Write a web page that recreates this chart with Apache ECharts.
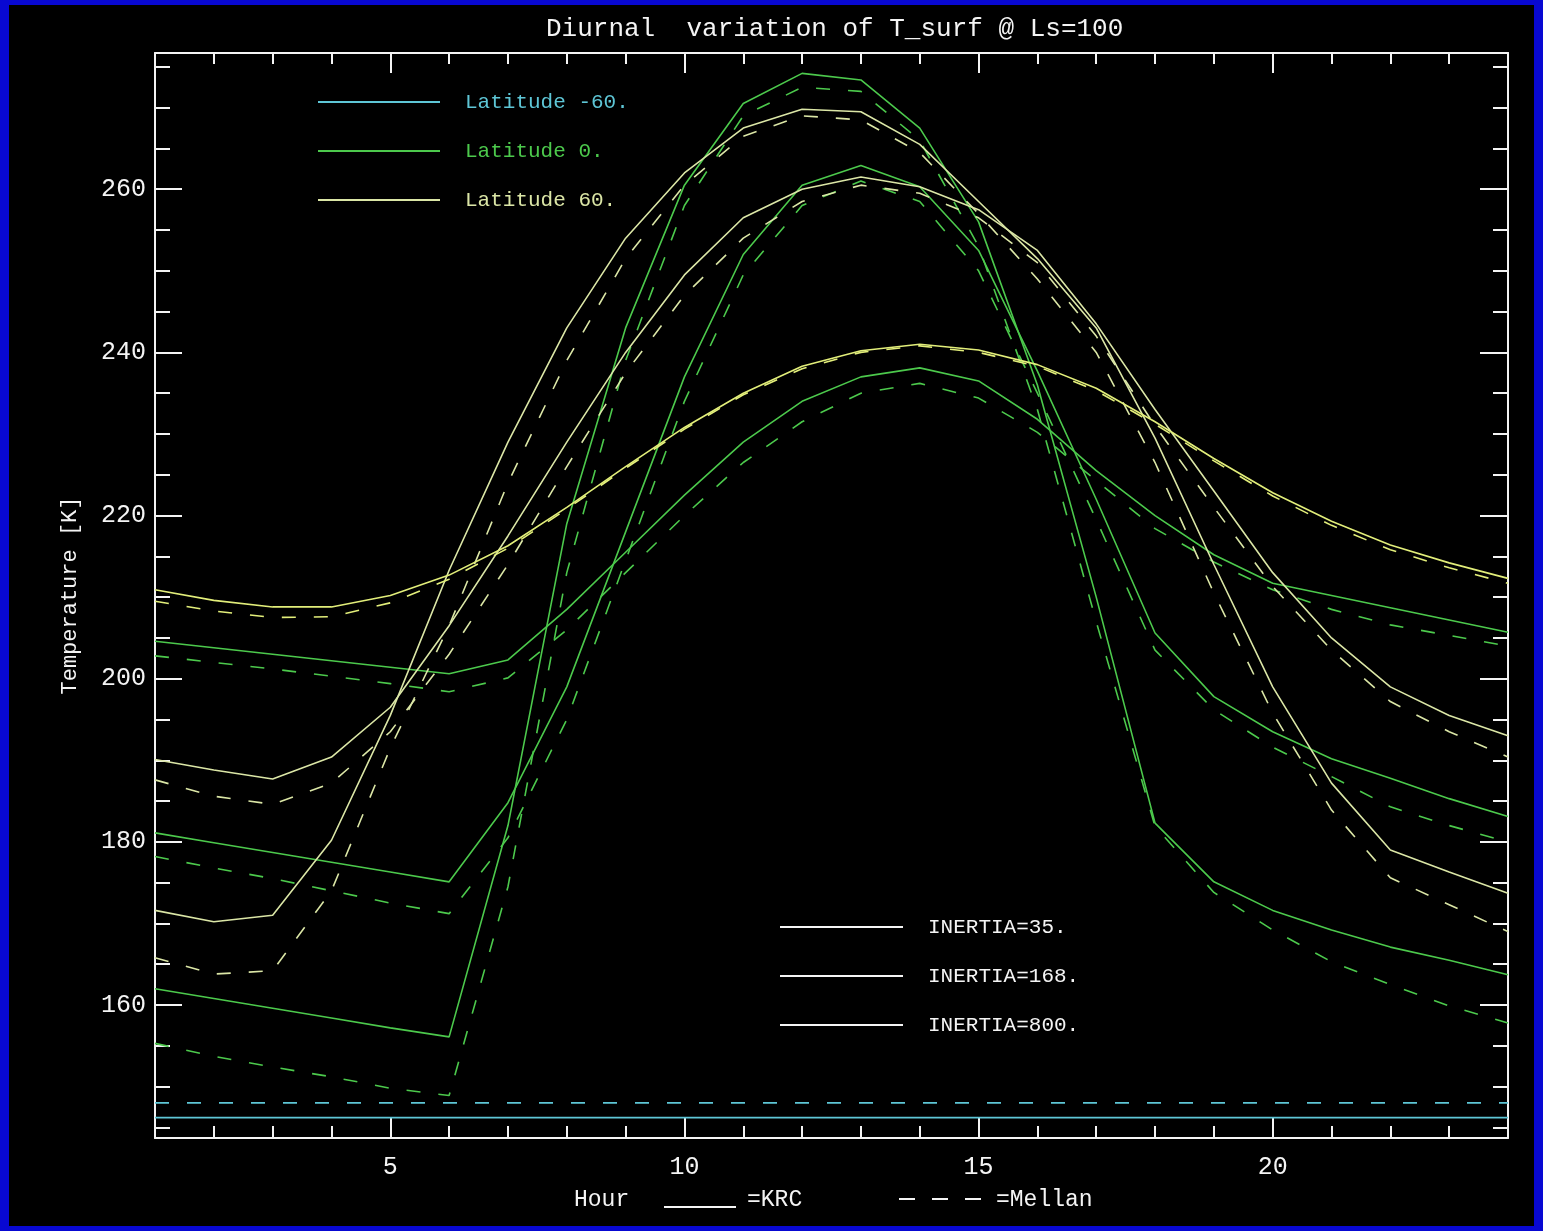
<!DOCTYPE html>
<html>
<head>
<meta charset="UTF-8">
<title>Diurnal variation of T_surf</title>
<script src="https://cdn.jsdelivr.net/npm/echarts@6/dist/echarts.min.js"></script>
<style>
  html, body { margin: 0; padding: 0; background: #0808d2; }
  #main { position: absolute; left: 9px; top: 5px; width: 1525px; height: 1221px; background: #000; }
</style>
</head>
<body>
<div id="main"></div>
<script type="text/javascript">
// hours of the day
var hours = [1, 2, 3, 4, 5, 6, 7, 8, 9, 10, 11, 12, 13, 14, 15, 16, 17, 18, 19, 20, 21, 22, 23, 24];

// latitude 60, KRC (solid) and Mellon (dashed)
var lat60Krc35   = [171.6, 170.2, 171.0, 180.2, 195.5, 213.3, 229.0, 243.0, 254.0, 262.0, 267.5, 269.8, 269.5, 265.5, 258.5, 251.5, 243.0, 229.5, 214.0, 199.0, 187.2, 179.0, 176.3, 173.7];
var lat60Mel35   = [165.8, 163.8, 164.2, 174.0, 191.5, 206.5, 224.0, 239.0, 251.5, 260.5, 266.5, 269.0, 268.5, 264.5, 257.0, 249.0, 240.0, 226.5, 210.5, 195.8, 183.9, 175.6, 172.3, 169.0];
var lat60Krc168  = [190.1, 188.8, 187.7, 190.4, 196.5, 206.5, 217.5, 229.0, 240.0, 249.5, 256.5, 260.0, 261.5, 260.3, 257.5, 252.5, 243.5, 233.0, 223.0, 213.0, 205.0, 199.0, 195.5, 193.0];
var lat60Mel168  = [187.6, 185.6, 184.6, 187.2, 193.5, 203.0, 214.0, 226.0, 237.5, 247.0, 254.0, 258.5, 260.5, 259.5, 256.5, 251.0, 242.0, 231.0, 221.0, 211.3, 203.5, 197.2, 193.5, 190.4];
var lat60Krc800  = [210.9, 209.6, 208.8, 208.8, 210.2, 212.7, 216.3, 221.0, 226.0, 230.8, 235.0, 238.3, 240.2, 241.0, 240.3, 238.5, 235.6, 231.5, 227.0, 222.8, 219.3, 216.4, 214.2, 212.3];
var lat60Mel800  = [209.5, 208.3, 207.5, 207.6, 209.3, 212.2, 216.0, 220.8, 225.8, 230.6, 234.8, 238.0, 240.0, 240.8, 240.0, 238.3, 235.3, 231.2, 226.7, 222.4, 218.8, 215.8, 213.6, 211.7];

// latitude 0
var lat0Krc35    = [162.0, 160.8, 159.6, 158.4, 157.2, 156.1, 182.0, 219.0, 243.0, 260.5, 270.5, 274.2, 273.4, 267.5, 256.0, 236.0, 210.0, 182.3, 175.1, 171.6, 169.2, 167.1, 165.5, 163.7];
var lat0Mel35    = [155.3, 153.7, 152.4, 151.2, 149.8, 148.9, 174.5, 213.0, 239.0, 258.0, 269.0, 272.5, 272.0, 266.0, 253.0, 233.0, 207.0, 181.9, 173.8, 169.2, 165.3, 162.5, 159.9, 157.8];
var lat0Krc168   = [181.1, 179.9, 178.7, 177.5, 176.3, 175.1, 184.8, 199.0, 218.0, 237.0, 252.0, 260.5, 262.9, 260.3, 252.5, 237.7, 222.0, 205.6, 197.8, 193.5, 190.2, 187.8, 185.3, 183.1];
var lat0Mel168   = [178.2, 176.8, 175.5, 174.0, 172.5, 171.2, 180.5, 195.0, 214.5, 234.0, 249.5, 258.0, 261.0, 258.5, 250.0, 235.0, 219.5, 203.5, 196.2, 191.6, 188.0, 184.3, 182.0, 180.0];
var lat0Krc800   = [204.6, 203.8, 203.0, 202.2, 201.4, 200.6, 202.3, 208.5, 215.5, 222.5, 229.0, 234.0, 237.0, 238.1, 236.5, 231.8, 225.5, 220.0, 215.2, 211.7, 210.2, 208.7, 207.2, 205.7];
var lat0Mel800   = [202.8, 202.0, 201.2, 200.3, 199.4, 198.4, 200.1, 206.0, 213.0, 220.0, 226.5, 231.5, 235.0, 236.2, 234.4, 230.2, 224.3, 218.4, 214.3, 210.9, 208.5, 206.6, 205.3, 204.0];

// latitude -60 (CO2 frost, same for every inertia)
var latS60Krc    = [146.2, 146.2, 146.2, 146.2, 146.2, 146.2, 146.2, 146.2, 146.2, 146.2, 146.2, 146.2, 146.2, 146.2, 146.2, 146.2, 146.2, 146.2, 146.2, 146.2, 146.2, 146.2, 146.2, 146.2];
var latS60Mel    = [148.0, 148.0, 148.0, 148.0, 148.0, 148.0, 148.0, 148.0, 148.0, 148.0, 148.0, 148.0, 148.0, 148.0, 148.0, 148.0, 148.0, 148.0, 148.0, 148.0, 148.0, 148.0, 148.0, 148.0];

// tick positions
var xMajor = [5, 10, 15, 20];
var xMinor = [2, 3, 4, 6, 7, 8, 9, 11, 12, 13, 14, 16, 17, 18, 19, 21, 22, 23];
var yMajor = [160, 180, 200, 220, 240, 260];
var yMinor = [145, 150, 155, 165, 170, 175, 185, 190, 195, 205, 210, 215, 225, 230, 235, 245, 250, 255, 265, 270, 275];

var latNames = ['Latitude -60.', 'Latitude 0.', 'Latitude 60.'];
var inertiaNames = ['INERTIA=35.', 'INERTIA=168.', 'INERTIA=800.'];

var FONT = 'Liberation Mono';
var C_S60 = '#5ec6d6';
var C_0 = '#4cc94c';
var C_60 = '#dbe6a6';
var C_60B = '#e2ee7a';

var chart = echarts.init(document.getElementById('main'));

function pairs(vals) {
    return hours.map(function (h, i) { return [h, vals[i]]; });
}

function curve(name, vals, color, dashed) {
    return {
        name: name, type: 'line', data: pairs(vals), symbol: 'none', silent: true,
        lineStyle: { color: color, width: 1.6, type: dashed ? [14, 18] : 'solid' }
    };
}

function xAx(pos, ticks, len, main) {
    return {
        type: 'value', position: pos, min: 1, max: 24,
        axisLine: { show: main, lineStyle: { color: '#f4f4f4', width: 2 } },
        axisTick: { show: true, inside: true, length: len, customValues: ticks, lineStyle: { color: '#f4f4f4', width: 2 } },
        axisLabel: pos === 'bottom' && main
            ? { customValues: ticks, color: '#f4f4f4', fontFamily: FONT, fontSize: 25, margin: 17 }
            : { show: false },
        splitLine: { show: false }
    };
}

function yAx(pos, ticks, len, main) {
    var ax = {
        type: 'value', position: pos, min: 143.7, max: 276.7,
        axisLine: { show: main, lineStyle: { color: '#f4f4f4', width: 2 } },
        axisTick: { show: true, inside: true, length: len, customValues: ticks, lineStyle: { color: '#f4f4f4', width: 2 } },
        axisLabel: pos === 'left' && main
            ? { customValues: ticks, color: '#f4f4f4', fontFamily: FONT, fontSize: 25, margin: 9 }
            : { show: false },
        splitLine: { show: false }
    };
    if (pos === 'left' && main) {
        ax.name = 'Temperature [K]';
        ax.nameLocation = 'middle';
        ax.nameGap = 74;
        ax.nameTextStyle = { color: '#f4f4f4', fontFamily: FONT, fontSize: 22 };
    }
    return ax;
}

// legend samples drawn as in the IDL plot
var graphics = [];
var latColors = [C_S60, C_0, C_60];
[92, 141, 190].forEach(function (y, i) {
    graphics.push({ type: 'line', shape: { x1: 309, y1: y + 5, x2: 431, y2: y + 5 }, style: { stroke: latColors[i], lineWidth: 2 } });
    graphics.push({ type: 'text', x: 456, y: y + 5, style: { text: latNames[i], fill: latColors[i], font: '21px ' + FONT, verticalAlign: 'middle' } });
});
[917, 966, 1015].forEach(function (y, i) {
    graphics.push({ type: 'line', shape: { x1: 771, y1: y + 5, x2: 894, y2: y + 5 }, style: { stroke: '#f4f4f4', lineWidth: 2 } });
    graphics.push({ type: 'text', x: 919, y: y + 5, style: { text: inertiaNames[i], fill: '#f4f4f4', font: '21px ' + FONT, verticalAlign: 'middle' } });
});
graphics.push({ type: 'text', x: 565, y: 1195, style: { text: 'Hour', fill: '#f4f4f4', font: '23px ' + FONT, verticalAlign: 'middle' } });
graphics.push({ type: 'line', shape: { x1: 655, y1: 1202, x2: 727, y2: 1202 }, style: { stroke: '#f4f4f4', lineWidth: 2 } });
graphics.push({ type: 'text', x: 738, y: 1195, style: { text: '=KRC', fill: '#f4f4f4', font: '23px ' + FONT, verticalAlign: 'middle' } });
graphics.push({ type: 'line', shape: { x1: 890, y1: 1194, x2: 976, y2: 1194 }, style: { stroke: '#f4f4f4', lineWidth: 2, lineDash: [16, 17] } });
graphics.push({ type: 'text', x: 987, y: 1195, style: { text: '=Mellan', fill: '#f4f4f4', font: '23px ' + FONT, verticalAlign: 'middle' } });

var option = {
    animation: false,
    backgroundColor: '#000',
    title: {
        text: 'Diurnal  variation of T_surf @ Ls=100',
        left: 532, top: 6,
        textStyle: { color: '#f4f4f4', fontFamily: FONT, fontSize: 26, fontWeight: 'normal' }
    },
    grid: { left: 146, top: 48, width: 1353, height: 1085 },
    xAxis: [
        xAx('bottom', xMajor, 20, true),
        xAx('bottom', xMinor, 12, false),
        xAx('top', xMajor, 20, true),
        xAx('top', xMinor, 11, false)
    ],
    yAxis: [
        yAx('left', yMajor, 27, true),
        yAx('left', yMinor, 15, false),
        yAx('right', yMajor, 28, true),
        yAx('right', yMinor, 15, false)
    ],
    series: [
        curve(latNames[0], latS60Krc, C_S60, false),
        curve(latNames[0], latS60Mel, C_S60, true),
        curve(latNames[1], lat0Krc35, C_0, false),
        curve(latNames[1], lat0Mel35, C_0, true),
        curve(latNames[1], lat0Krc168, C_0, false),
        curve(latNames[1], lat0Mel168, C_0, true),
        curve(latNames[1], lat0Krc800, C_0, false),
        curve(latNames[1], lat0Mel800, C_0, true),
        curve(latNames[2], lat60Krc35, C_60, false),
        curve(latNames[2], lat60Mel35, C_60, true),
        curve(latNames[2], lat60Krc168, C_60, false),
        curve(latNames[2], lat60Mel168, C_60, true),
        curve(latNames[2], lat60Krc800, C_60B, false),
        curve(latNames[2], lat60Mel800, C_60B, true)
    ],
    graphic: graphics
};

chart.setOption(option);
</script>
</body>
</html>
